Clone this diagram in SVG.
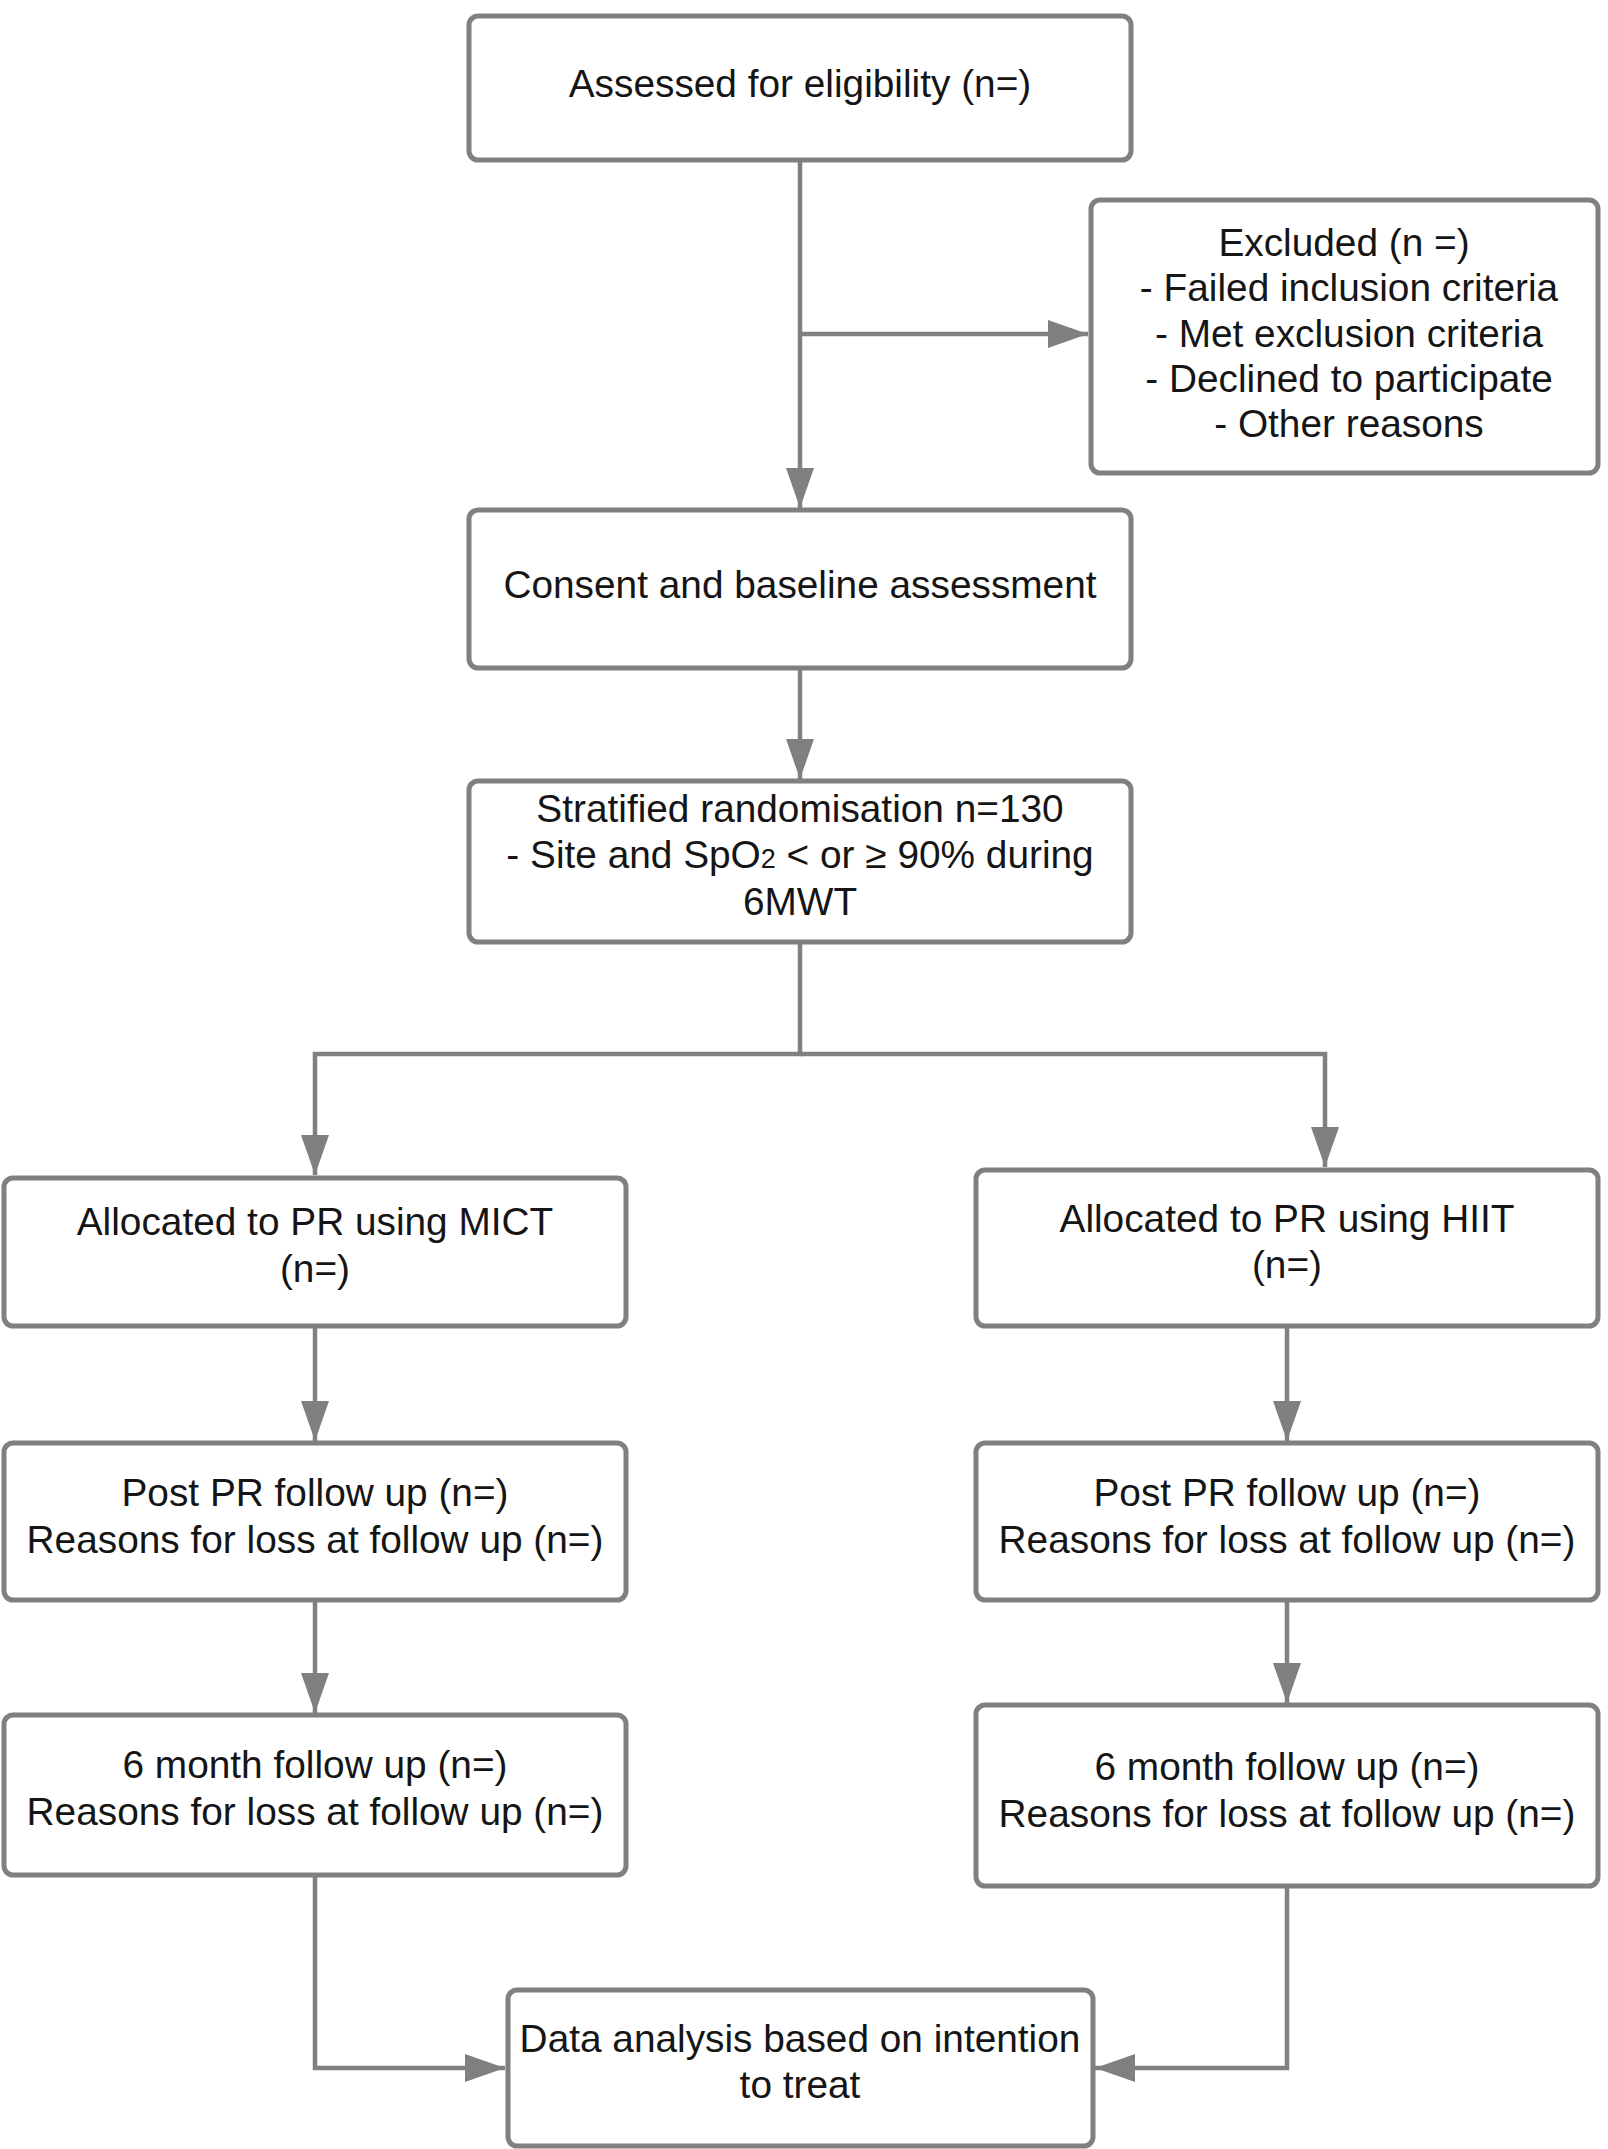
<svg xmlns="http://www.w3.org/2000/svg" width="1608" height="2149" viewBox="0 0 1608 2149">
<style>
.box{fill:#ffffff;stroke:#808083;stroke-width:5}
.ln{fill:none;stroke:#808083;stroke-width:4.5}
.t{font-family:"Liberation Sans",Arial,sans-serif;font-size:38.8px;fill:#151515;text-anchor:middle}
</style>
<defs>
<marker id="ah" markerUnits="userSpaceOnUse" markerWidth="42" markerHeight="30" refX="40" refY="14" orient="auto">
<path d="M0,0 L40,14 L0,28 z" fill="#808083"/>
</marker>
</defs>
<rect width="1608" height="2149" fill="#ffffff"/>
<g id="connectors">
<path class="ln" d="M800,160 V508" marker-end="url(#ah)"/>
<path class="ln" d="M800,334 H1088" marker-end="url(#ah)"/>
<path class="ln" d="M800,668 V779" marker-end="url(#ah)"/>
<path class="ln" d="M800,942 V1054 H315 V1175" marker-end="url(#ah)"/>
<path class="ln" d="M800,1054 H1325 V1167" marker-end="url(#ah)"/>
<path class="ln" d="M315,1326 V1441" marker-end="url(#ah)"/>
<path class="ln" d="M1287,1326 V1441" marker-end="url(#ah)"/>
<path class="ln" d="M315,1600 V1713" marker-end="url(#ah)"/>
<path class="ln" d="M1287,1600 V1703" marker-end="url(#ah)"/>
<path class="ln" d="M315,1875 V2068 H505" marker-end="url(#ah)"/>
<path class="ln" d="M1287,1886 V2068 H1095" marker-end="url(#ah)"/>
</g>
<g id="assessed">
<rect class="box" x="469" y="16" width="662" height="144" rx="9"/>
<text class="t" x="800" y="97">Assessed for eligibility (n=)</text>
</g>
<g id="excluded">
<rect class="box" x="1091" y="200" width="507" height="273" rx="9"/>
<text class="t" x="1344" y="256">Excluded (n =)</text>
<text class="t" x="1349" y="301">- Failed inclusion criteria</text>
<text class="t" x="1349" y="347">- Met exclusion criteria</text>
<text class="t" x="1349" y="392">- Declined to participate</text>
<text class="t" x="1349" y="437">- Other reasons</text>
</g>
<g id="consent">
<rect class="box" x="469" y="510" width="662" height="158" rx="9"/>
<text class="t" x="800" y="598">Consent and baseline assessment</text>
</g>
<g id="randomisation">
<rect class="box" x="469" y="781" width="662" height="161" rx="9"/>
<text class="t" x="800" y="822">Stratified randomisation n=130</text>
<text class="t" x="800" y="868">- Site and SpO<tspan font-size="27">2</tspan> &lt; or ≥ 90% during</text>
<text class="t" x="800" y="915">6MWT</text>
</g>
<g id="mict">
<rect class="box" x="4" y="1178" width="622" height="148" rx="9"/>
<text class="t" x="315" y="1235">Allocated to PR using MICT</text>
<text class="t" x="315" y="1282">(n=)</text>
</g>
<g id="hiit">
<rect class="box" x="976" y="1170" width="622" height="156" rx="9"/>
<text class="t" x="1287" y="1232">Allocated to PR using HIIT</text>
<text class="t" x="1287" y="1278">(n=)</text>
</g>
<g id="post-mict">
<rect class="box" x="4" y="1443" width="622" height="157" rx="9"/>
<text class="t" x="315" y="1506">Post PR follow up (n=)</text>
<text class="t" x="315" y="1553">Reasons for loss at follow up (n=)</text>
</g>
<g id="post-hiit">
<rect class="box" x="976" y="1443" width="622" height="157" rx="9"/>
<text class="t" x="1287" y="1506">Post PR follow up (n=)</text>
<text class="t" x="1287" y="1553">Reasons for loss at follow up (n=)</text>
</g>
<g id="six-mict">
<rect class="box" x="4" y="1715" width="622" height="160" rx="9"/>
<text class="t" x="315" y="1778">6 month follow up (n=)</text>
<text class="t" x="315" y="1825">Reasons for loss at follow up (n=)</text>
</g>
<g id="six-hiit">
<rect class="box" x="976" y="1705" width="622" height="181" rx="9"/>
<text class="t" x="1287" y="1780">6 month follow up (n=)</text>
<text class="t" x="1287" y="1827">Reasons for loss at follow up (n=)</text>
</g>
<g id="analysis">
<rect class="box" x="508" y="1990" width="585" height="156" rx="9"/>
<text class="t" x="800" y="2052">Data analysis based on intention</text>
<text class="t" x="800" y="2098">to treat</text>
</g>
</svg>
